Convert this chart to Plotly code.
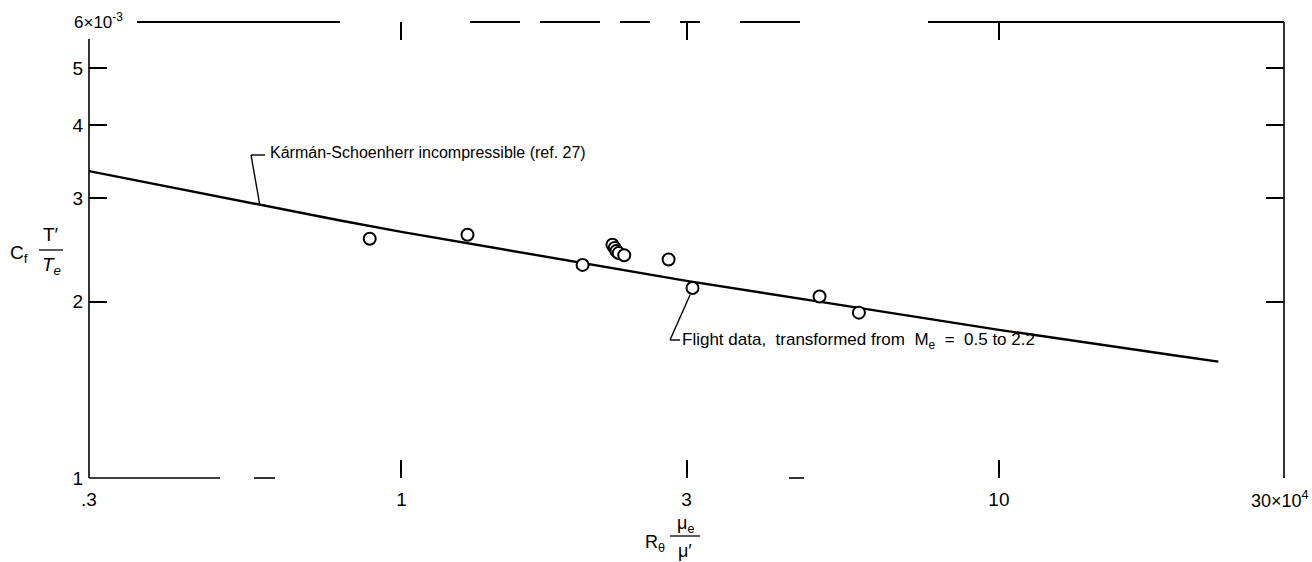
import math
import plotly.graph_objects as go

# ---- data ----
# Karman-Schoenherr incompressible curve (x in units of 10^4, y in units of 10^-3)
ks_x = [0.3, 0.5, 0.79, 1.0, 2.0, 3.0, 5.0, 10.0, 20.0, 23.3]
ks_y = [3.34, 3.01, 2.75, 2.63, 2.33, 2.17, 2.00, 1.79, 1.615, 1.58]

# Flight data, transformed
flight_x = [0.885, 1.29, 2.01, 2.255, 2.275, 2.29, 2.31, 2.36, 2.80, 3.07, 5.01, 5.83]
flight_y = [2.56, 2.60, 2.31, 2.50, 2.47, 2.44, 2.42, 2.40, 2.36, 2.11, 2.04, 1.915]

x_tickvals = [0.3, 1, 3, 10, 30]
x_ticktext = [".3", "1", "3", "10", ""]
y_tickvals = [1, 2, 3, 4, 5]
y_ticktext = ["1", "2", "3", "4", "5"]

W, H = 1312, 562
L, R, T, B = 89, 28, 22, 84
PW, PH = W - L - R, H - T - B

FONT = "Liberation Sans, Arial, sans-serif"
FS = 16      # long labels
FT = 19      # tick labels and axis titles


def px(x):
    return (x - L) / PW


def py(y):
    return (H - B - y) / PH


fig = go.Figure()
fig.add_trace(go.Scatter(x=ks_x, y=ks_y, mode="lines",
                         line=dict(color="black", width=2.4),
                         showlegend=False, hoverinfo="skip"))
fig.add_trace(go.Scatter(x=flight_x, y=flight_y, mode="markers",
                         marker=dict(symbol="circle", size=12, color="white",
                                     line=dict(color="black", width=2)),
                         showlegend=False))

shapes = []


def seg(x0, y0, x1, y1, w=1.6):
    shapes.append(dict(type="line", xref="paper", yref="paper",
                       x0=px(x0), y0=py(y0), x1=px(x1), y1=py(y1),
                       line=dict(color="black", width=w)))


# frame (scanned frame is broken in places)
seg(89, 39, 89, 478)          # left
seg(1284, 22, 1284, 478)      # right
for a, b in [(137, 340), (470, 520), (540, 600), (620, 650), (680, 700),
             (740, 800), (928, 1284)]:
    seg(a, 22, b, 22, 2)
for a, b in [(89, 220), (254, 275), (789, 804)]:
    seg(a, 478, b, 478, 1.6)

# leader for Karman-Schoenherr label
seg(251, 155, 265, 155, 1.4)
seg(251, 155, 260, 206, 1.4)
# leader for flight data label
seg(690, 295, 670, 340, 1.4)
seg(670, 340, 680, 340, 1.4)
# fraction bars of axis titles
seg(39, 250, 63, 250, 1.3)
seg(670, 536, 700, 536, 1.3)

ann = []


def text(x, y, s, size=FS, xanchor="left", italic=False):
    ann.append(dict(xref="paper", yref="paper", x=px(x), y=py(y), text=s,
                    showarrow=False, xanchor=xanchor, yanchor="middle",
                    font=dict(family=FONT, size=size, color="black",
                              style="italic" if italic else "normal")))


text(268, 153, "Kármán-Schoenherr incompressible (ref. 27)")
text(680, 341, "Flight data,  transformed from  M<sub>e</sub>  =  0.5 to 2.2", size=17)
text(72, 21, "6×10<sup>-3</sup>", size=17)
text(1311, 499, "30×10<sup>4</sup>", size=18, xanchor="right")
# y title
text(8, 254, "C<sub>f</sub>", size=FT)
text(51, 235, "T′", size=FT, xanchor="center")
text(51, 266, "T<sub>e</sub>", size=FT, xanchor="center", italic=True)
# x title
text(643, 543, "R<sub>θ</sub>", size=18)
text(685, 524, "μ<sub>e</sub>", size=18, xanchor="center")
text(685, 551, "μ′", size=18, xanchor="center")

fig.update_layout(
    width=W, height=H,
    margin=dict(l=L, r=R, t=T, b=B),
    plot_bgcolor="white", paper_bgcolor="white",
    font=dict(family=FONT, size=FS, color="black"),
    shapes=shapes, annotations=ann,
    xaxis=dict(type="log", range=[math.log10(0.3), math.log10(30)],
               tickvals=x_tickvals, ticktext=x_ticktext,
               ticks="inside", ticklen=18, tickwidth=1.5, tickcolor="black",
               mirror="ticks", showline=False, showgrid=False, zeroline=False,
               ticklabelstandoff=8, tickfont=dict(size=FT)),
    yaxis=dict(type="log", range=[0, math.log10(6)],
               tickvals=y_tickvals, ticktext=y_ticktext,
               ticks="inside", ticklen=18, tickwidth=1.5, tickcolor="black",
               mirror="ticks", showline=False, showgrid=False, zeroline=False,
               ticklabelstandoff=5, tickfont=dict(size=FT)),
)

fig.write_html("out.html")
